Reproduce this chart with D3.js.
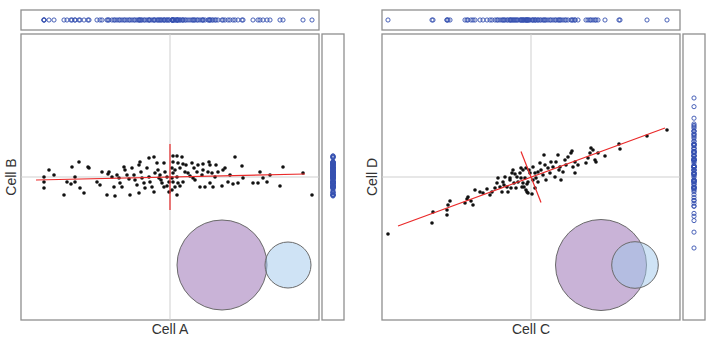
<!DOCTYPE html>
<html>
<head>
<meta charset="utf-8">
<script src="https://cdn.jsdelivr.net/npm/d3@7"></script>
<style>
  body { margin: 0; background: #fff; }
  svg { display: block; }
  text { font-family: "Liberation Sans", Arial, sans-serif; fill: #333; }
</style>
</head>
<body>
<script>
// panel 1: Cell A vs Cell B
var cellA = [-12.6, -12.6, -12.6, -12.1, -11.6, -10.6, -10.3, -9.8, -9.9, -9.5, -9.5, -9.1, -9.0, -8.2, -8.1, -8.6,
    -7.3, -7.0, -6.8, -6.3, -6.2, -6.1, -5.8, -5.6, -5.5, -5.3, -5.1, -5.0, -4.8, -4.6, -4.5, -4.3, -4.1, -4.0,
    -3.8, -3.6, -3.5, -3.3, -3.1, -3.1, -3.0, -2.9, -2.8, -2.6, -2.5, -2.3, -2.1, -2.1, -1.6, -2.0, -1.8, -1.6,
    -1.5, -1.2, -1.1, -1.0, -0.8, -0.6, -0.6, -0.5, -0.3, -0.1, -0.1, -1.3, -0.3, -0.9,
    0.3, 0.7, 1.2, 0.3, 0.8, 1.3, 1.6, 0.2, 0.5, 1.0, 0.3, 0.2, 0.7, 0.3, 0.8, 1.3, 0.5, 1.0, 0.2, 0.7,
    1.5, 1.8, 2.0, 2.2, 2.3, 2.4, 2.5, 2.7, 2.8, 3.0, 3.2, 3.3, 3.3, 3.5, 3.8, 3.9, 4.0, 4.0, 4.2, 4.3,
    4.5, 4.6, 4.8, 5.2, 5.3, 5.5, 5.8, 6.0, 6.3, 6.5, 6.8, 7.2, 7.3, 8.3, 8.8, 9.0, 9.3, 9.7, 10.0, 11.0,
    11.3, 13.3, 14.2];
var cellB = [0.0, -0.5, -1.1, 0.7, 0.2, -1.8, -0.5, 1.0, -0.7, 0.0, -0.5, 1.5, -1.1, 1.0, 0.9, -1.6,
    -0.5, -0.8, 0.5, -1.8, 0.3, 0.5, 0.0, -1.0, -1.9, 0.2, -0.1, -0.6, -1.0, 1.0, 0.7, 0.2, -0.2, -1.8,
    0.9, 0.2, -0.3, -0.8, -1.6, 1.2, 1.5, 0.5, -0.1, -0.6, -1.1, 0.9, 0.0, 1.9, 2.0, -0.5, -1.0, -1.5,
    0.4, 0.7, -0.1, 0.2, -0.6, 1.4, -1.0, 0.5, 0.0, -0.5, -1.5, 1.4, -0.9, -0.3,
    2.1, 2.1, 2.0, 1.5, 1.4, 1.3, 1.2, 0.9, 0.7, 0.9, 0.4, -0.1, 0.0, -0.5, -0.6, -0.5, -1.0, -0.9, -1.3, -1.8,
    0.5, 0.4, 0.1, 1.4, -0.1, 0.9, -0.3, 0.5, 1.2, -1.0, 0.2, 1.3, 0.7, -1.0, 0.5, 1.5, 1.2, -0.6, 0.4, -1.0,
    0.0, 1.2, 0.5, -0.9, 0.7, 0.9, -0.5, 0.2, -0.7, 2.0, -0.6, 1.1, -0.1, -0.6, -0.6, 0.5, -0.1, -0.5, 0.2, -0.9,
    1.0, 0.4, -1.8];

// panel 2: Cell C vs Cell D
var cellC = [-14.3, -9.9, -9.8, -8.4, -8.4, -8.3, -8.1, -6.6, -6.4, -6.3, -6.0, -5.8, -5.6, -5.1, -4.8, -4.4,
    -4.1, -3.9, -3.6, -3.4, -3.3, -3.1, -2.9, -2.8, -2.6, -2.4, -2.3, -2.1, -1.9, -1.8, -1.7, -1.5, -1.4, -1.3,
    -1.1, -0.9, -0.8, -0.6, -0.4, -0.3, -0.1, -2.7, -2.0, -1.6, -0.5, 0.2, 0.7, -2.1, -0.4, -1.0, 0.4,
    -1.0, -0.8, -0.7, -0.5, -0.3, 0.1, -0.2, 0.2, 0.4, 0.5, 0.7, 0.9, 1.0, 1.2, 1.3, 1.4, 1.5, 1.7, 1.9,
    2.0, 2.2, 2.4, 2.5, 2.7, 2.8, 2.9, 3.0, 3.2, 3.4, 3.5, 3.7, 4.0, 4.1, 4.2, 4.4, 4.4, 4.7, 5.5, 5.7,
    5.9, 6.0, 6.2, 6.4, 6.5, 6.7, 7.4, 8.8, 8.9, 11.6, 13.6];
var cellD = [-5.7, -4.6, -3.5, -3.8, -3.3, -2.8, -2.4, -2.6, -2.2, -2.0, -2.4, -2.8, -1.3, -1.5, -1.6, -1.2,
    -1.8, -1.5, -1.1, -0.6, -0.1, -1.0, -1.5, -0.5, 0.0, -1.0, -1.5, -0.3, 0.4, 0.7, -0.6, -1.1, 0.0, -0.5,
    0.4, -1.0, 0.7, -0.1, -1.5, -0.5, 0.4, -0.8, -1.1, 0.3, 0.9, -0.3, 0.5, -0.1, -0.7, 0.9, -1.1,
    -0.1, -0.6, -1.0, -1.3, -1.6, -1.7, 0.7, 1.0, 0.4, -0.1, -0.5, 1.4, 0.7, 0.2, 2.2, 1.2, -0.3, 0.9, 0.4,
    1.5, 1.0, 0.0, 1.5, 2.2, 0.7, 1.0, -0.3, 0.5, 1.7, 1.2, 2.0, 2.4, 2.6, 1.0, 1.5, 0.4, 1.2, 1.4, 1.9,
    2.4, 2.9, 2.7, 1.7, 1.5, 2.4, 2.1, 3.3, 2.8, 4.1, 4.7];

// fitted axes (major / minor), in data units
var axisAB = [[[-13.4, -0.3], [13.5, 0.3]], [[0, 3.3], [0, -3.3]]];
var axisCD = [[[-13.3, -4.9], [13.4, 4.9]], [[-1.0, 2.55], [1.0, -2.55]]];

// overlap circles
var vennAB = [{name: "Cell A", cx: 5.2, cy: -8.8, r: 4.5}, {name: "Cell B", cx: 11.8, cy: -8.8, r: 2.3}];
var vennCD = [{name: "Cell C", cx: 7.0, cy: -8.8, r: 4.55}, {name: "Cell D", cx: 10.4, cy: -8.8, r: 2.33}];

function drawPanel (svg, x0, xs, ys, axes, venn, xLabel, yLabel, stretchRug)
{
    var top = 34, w = 298, h = 286;

    var x = d3.scaleLinear().domain([-14.9, 14.9]).range([x0, x0 + w]);
    var y = d3.scaleLinear().domain([-14.3, 14.3]).range([top + h, top]);

    var g = svg.append("g");

    // boxes
    g.append("rect").attr("x", x0).attr("y", 10).attr("width", w).attr("height", 20)
        .attr("fill", "none").attr("stroke", "#8f8f8f").attr("stroke-width", 1.3);
    g.append("rect").attr("x", x0).attr("y", top).attr("width", w).attr("height", h)
        .attr("fill", "none").attr("stroke", "#8f8f8f").attr("stroke-width", 1.3);
    g.append("rect").attr("x", x0 + w + 3).attr("y", top).attr("width", 22).attr("height", h)
        .attr("fill", "none").attr("stroke", "#8f8f8f").attr("stroke-width", 1.3);

    // zero lines
    g.append("line").attr("x1", x(0)).attr("x2", x(0)).attr("y1", top).attr("y2", top + h)
        .attr("stroke", "#cfcfcf");
    g.append("line").attr("x1", x0).attr("x2", x0 + w).attr("y1", y(0)).attr("y2", y(0))
        .attr("stroke", "#cfcfcf");

    // circles
    g.selectAll("circle.venn")
        .data(venn)
        .enter()
        .append("circle")
        .attr("class", "venn")
        .attr("cx", function(d){return x(d.cx);})
        .attr("cy", function(d){return y(d.cy);})
        .attr("r", function(d){return x(d.r) - x(0);})
        .attr("fill", function(d, i){return i == 0 ? "#c9b3d7" : "rgba(159,199,235,0.5)";})
        .attr("stroke", "#6a6a6a")
        .attr("stroke-width", 1);

    var pts = xs.map(function(v, i){return [v, ys[i]];});

    g.selectAll("circle.pt")
        .data(pts)
        .enter()
        .append("circle")
        .attr("class", "pt")
        .attr("cx", function(d){return x(d[0]);})
        .attr("cy", function(d){return y(d[1]);})
        .attr("r", 1.8)
        .attr("fill", "#111");

    var line = d3.line().x(function(d){return x(d[0]);}).y(function(d){return y(d[1]);});
    g.selectAll("path.fit")
        .data(axes)
        .enter()
        .append("path")
        .attr("class", "fit")
        .attr("d", line)
        .attr("fill", "none")
        .attr("stroke", "#ea2a2a")
        .attr("stroke-width", 1.2);

    // marginal rugs
    g.selectAll("circle.rugx")
        .data(xs)
        .enter()
        .append("circle")
        .attr("class", "rugx")
        .attr("cx", function(d){return x(d);})
        .attr("cy", 20)
        .attr("r", 2.1)
        .attr("fill", "none")
        .attr("stroke", "#3650b0")
        .attr("stroke-width", 0.9);

    var yr = y;
    if (stretchRug) {
        yr = d3.scaleLinear().domain(d3.extent(ys)).range([248, 98]);
    }
    g.selectAll("circle.rugy")
        .data(ys)
        .enter()
        .append("circle")
        .attr("class", "rugy")
        .attr("cx", x0 + w + 14)
        .attr("cy", function(d){return yr(d);})
        .attr("r", 2.1)
        .attr("fill", "none")
        .attr("stroke", "#3650b0")
        .attr("stroke-width", 0.9);

    // labels
    g.append("text").text(xLabel)
        .attr("x", x(0)).attr("y", 334)
        .attr("text-anchor", "middle").style("font-size", "14px");
    g.append("text").text(yLabel)
        .attr("text-anchor", "middle").style("font-size", "14px")
        .attr("transform", "translate(" + (x0 - 5) + "," + y(0) + ") rotate(-90)");
}

function init ()
{
    var svg = d3.select("body")
        .append("svg")
        .attr("width", 709)
        .attr("height", 341);

    drawPanel(svg, 21, cellA, cellB, axisAB, vennAB, "Cell A", "Cell B", false);
    drawPanel(svg, 382, cellC, cellD, axisCD, vennCD, "Cell C", "Cell D", true);
}

window.onload = init;
</script>
</body>
</html>
